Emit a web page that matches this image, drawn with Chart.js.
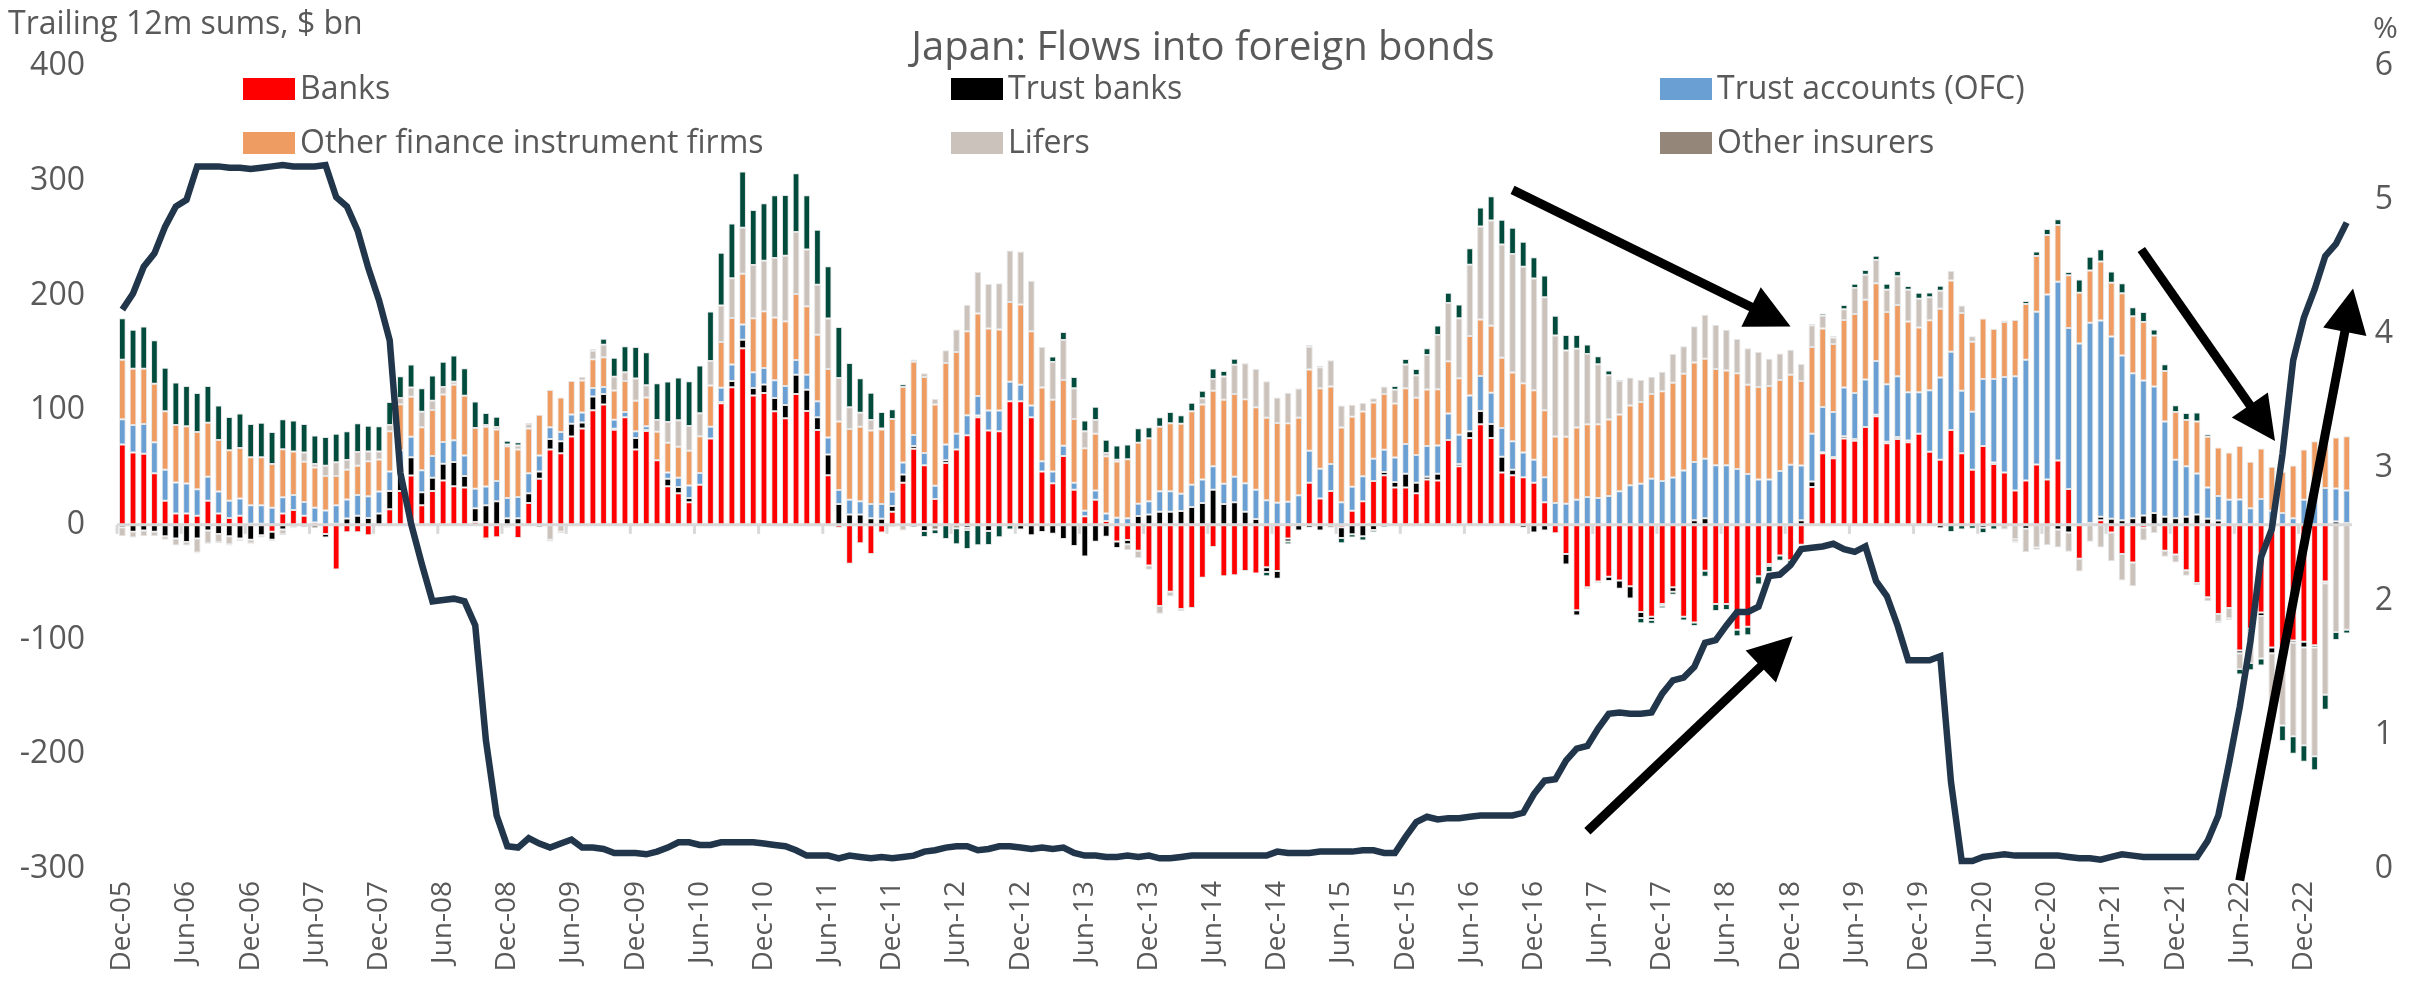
<!DOCTYPE html>
<html>
<head>
<meta charset="utf-8">
<script src="https://cdn.jsdelivr.net/npm/chart.js@4.4.0/dist/chart.umd.min.js"></script>
<style>
  body { margin: 0; background: #fff; }
  #wrap { position: relative; width: 2410px; height: 1004px; font-family: 'Open Sans', sans-serif; color: #595959; }
  #flowsChart { position: absolute; left: 0; top: 0; }
  .txt { position: absolute; white-space: nowrap; line-height: 1; }
  .key { position: absolute; width: 52px; height: 22px; }
</style>
</head>
<body>
<div id="wrap">
  <canvas id="flowsChart" width="2410" height="1004"></canvas>
  <div class="txt" style="left:8px; top:6px; font-size:32px;">Trailing 12m sums, $ bn</div>
  <div class="txt" style="left:1203px; top:25px; font-size:40px; transform:translateX(-50%);">Japan: Flows into foreign bonds</div>
  <div class="txt" style="left:2373px; top:12px; font-size:30px;">%</div>
  <div id="legend"></div>
</div>
<script>
// trailing 12m sums, $ bn, monthly from Dec-05
const banks = [
  70, 63, 62, 45, 21, 10, 10, 8, 21, 10,
  6, 8, 1, 1, -6, 10, 13, 8, 2, -8,
  -39, -6.5, -6.5, -9, 0, 13.5, 29.6, 43, 17, 29.6,
  38.7, 33.7, 32.5, 2.5, -12, -10.7, -1.5, -11.5, 19, 40.3,
  65.8, 62.5, 77, 84, 100, 105, 83, 93.8, 65.8, 81.9,
  56.4, 33.7, 27.6, 19.8, 35, 75.3, 106, 120, 154, 112.8,
  115, 99, 93, 114, 99.2, 82.7, 43.2, -2.5, -34, -16,
  -25.5, -6.6, 11.5, 36.6, 66.3, 51.9, 22.6, 53.9, 65.8, 78.2,
  93.8, 82.3, 81.5, 107.8, 107.8, 93.8, 46.5, 36.2, 60, 30.5,
  7.4, 21.8, 3.3, -14.4, -13.2, -22.6, -35.4, -70.8, -58.4, -73.3,
  -72.4, -46, -19.3, -44.9, -44, -40.3, -42.4, -37, -40.3, -12,
  0.8, 36.6, 23, 29.6, -2, 12.3, 20.6, 38.3, 43.2, 32.5,
  32.5, 27.6, 39.5, 38.7, 74, 51, 75.7, 87.7, 75.7, 45.7,
  43.2, 41.6, 36.6, 19.8, -7.4, -25.5, -74.5, -54.3, -49.4, -45.3,
  -48.6, -53.5, -76, -80, -69, -54.3, -80, -85.2, -40, -69,
  -69, -91.4, -88.9, -44.9, -34.2, -26.7, -30.9, -17.3, 32.9, 62.5,
  58, 75.3, 73.3, 85.2, 94.7, 71.2, 74.9, 72, 79.4, 63.8,
  56.8, 82.7, 62.5, 48.1, 68.7, 53.1, 45.7, 30, 38.7, 52.7,
  39.5, 56, 31.3, -29.6, 0, 4.1, -6.6, -25.5, -32.9, -2.5,
  0, -22.6, -25.9, -39.5, -50.6, -63, -77.8, -72.4, -109.5, -90.5,
  -76.5, -107, -107.8, -100.8, -102, -105, -49.4, 0, 0
];
const trustBanks = [
  -2, -6, -5, -6, -10, -12, -15, -12, -5, -8,
  -10, -12, -13, -9, -7, -4, 0, 0, 0, -3,
  1, 5.5, 8, 6, 10, 16, 16.5, 16, 11.5, 11.5,
  14.5, 21, 10, 12, 17, 20.5, 5.8, 5.8, 8.6, 6.2,
  9, 10.3, 11.1, 5.3, 12, 9, 0.8, 0, 9.9, 0.8,
  0, 6.6, 5.3, 3.7, 0, 0, 1.2, 5.3, 7.4, 6.6,
  7.4, 11.5, 11.5, 16.9, 18.5, 11, 18.1, 18.1, 9, 9,
  5.8, 5.3, 5, 7.4, 2.5, -5.3, 0, 2.5, 0, -2.5,
  1.6, -5.3, 0, 0, -4, -9, -6.2, -7.8, -12.3, -18.5,
  -27.6, -14.8, -10.3, -5.8, -3.7, 7.8, 9, 11.5, 11.5, 12,
  15.6, 19, 30.5, 18.1, 19.8, 11.5, 5, -4.1, -6.6, -2.5,
  -5, -2.5, -5, -2, -9.5, -8.2, -9.9, -4.5, 2.9, 4.9,
  12, 9, 2.5, 5.8, 0, 2, 5.8, 11.5, 12.3, 13.6,
  4.9, -2.5, -6.6, -5, 0, -9, -4.5, -1.6, -1.2, -3.7,
  -7, -10.7, -5.3, -2.9, -1.6, -4.1, 0, 4.1, 5.8, 0,
  0, 0, 0, 0, -1.6, 0, 0, 4.1, 4.9, 0.8,
  1.2, 2, 1.6, 0, 1.2, 1.2, 1.6, 1.6, -1, 0,
  -3, 0, 0, 0, -2.5, 1.2, 0, 0, -3.3, 0,
  0, -4.1, -6.6, 0, 1.6, 2.9, 5.3, 4.1, 5.8, 8.2,
  10.3, 7, 5.8, 7, 9, 5.3, 3.7, 0, -2.5, -2,
  -2.9, -4.9, -5.3, -2, -4.9, -2, -1.6, 2.9, 1.6
];
const trustAccounts = [
  22, 24, 26, 27, 27, 27, 26, 23, 21, 19,
  15, 15, 16, 16, 15, 14, 13, 12, 13, 12.5,
  16, 16.5, 18, 19, 19, 17, 19, 17.7, 19, 19,
  19, 19, 18, 17, 16.5, 17.7, 17.7, 18.5, 17.3, 14,
  10.3, 8.2, 8.2, 8.6, 7.4, 6.2, 7.8, 4.5, 5.8, 3.3,
  0, 5.3, 8.2, 10.7, 10.3, 10.3, 12.3, 14.4, 13.2, 13.6,
  14.4, 15.6, 16.5, 12.8, 13.2, 14, 14.8, 12.3, 12.8, 11.5,
  12.3, 12.8, 12.3, 10.3, 9.5, 10.7, 11.5, 13.6, 13.6, 17.3,
  16.9, 17.3, 18.1, 16.9, 14.4, 10.3, 9, 10.3, 9, 6.2,
  5, 8.2, 6.6, 6.2, 5.8, 10.7, 11.5, 17.7, 17.7, 15.2,
  19.3, 20.6, 20.6, 17.7, 22.2, 24.7, 25.5, 21.4, 19.3, 20.2,
  25, 28, 26, 23.5, 19.8, 21, 21.8, 19.3, 19.3, 21.4,
  26, 24.3, 26.7, 24.7, 23, 25.5, 31.3, 30.5, 27.2, 25.1,
  24.7, 21.4, 20.2, 21.8, 19, 18.5, 21.8, 24.3, 23.5, 25.1,
  29.2, 34.6, 35.8, 40.3, 38.3, 41.2, 47.3, 50.6, 51.9, 51.9,
  51.9, 48.6, 44.4, 39.5, 39.5, 46.9, 52.3, 47.7, 41.6, 39.5,
  39.1, 42.4, 40, 41.6, 46.9, 50.2, 53, 42, 36.2, 53.5,
  71.6, 68.3, 54.3, 50.6, 58.4, 72.8, 83.1, 99.6, 105.3, 133,
  161.3, 156, 140.3, 158, 174.5, 171.2, 158.8, 143.6, 126.3, 117.7,
  110.3, 83.1, 51, 44, 35.8, 27.2, 21.4, 21.8, 22.2, 14.4,
  22.6, 12.3, 10.3, 5.8, 21.8, 32.1, 32.1, 28.8, 28.4
];
const otherFinance = [
  52, 49, 48, 51, 51, 50, 50, 50, 47, 45,
  44, 44, 42, 42, 38, 42, 38, 35, 35, 30,
  25.5, 26, 25.5, 30.5, 28, 35, 40, 35, 37.5, 40,
  41.5, 48.5, 52, 53, 52, 45, 45, 41.5, 39, 35.4,
  32.5, 30, 29.2, 28, 25, 26, 25.5, 27, 26.7, 25,
  24.7, 26, 27, 30.5, 32, 35.8, 40, 40.7, 44.4, 47,
  49.4, 54.7, 56.4, 57.6, 59.7, 58, 59.7, 59.7, 61.7, 65,
  64.2, 65, 63.4, 65.8, 63.8, 66.3, 70.8, 71.2, 71.2, 73.3,
  72, 71.6, 70.8, 69.5, 70, 64.6, 64.2, 62.5, 57.2, 55.6,
  54.3, 49.4, 49.8, 49, 51.4, 53, 55.1, 56.4, 59.3, 61,
  64.2, 65.4, 65.8, 73.3, 72, 73.3, 72, 72, 69.5, 68.3,
  67.5, 70.8, 70, 67.5, 65, 61, 56.4, 49, 48.6, 47,
  48.6, 49.8, 49.4, 49, 45.7, 49.4, 51.9, 49.4, 58.4, 61.3,
  60, 60.5, 60.5, 58.4, 58, 58.4, 63, 63.4, 64.2, 66.7,
  67, 69.5, 71.2, 73.7, 78.2, 82.7, 84.4, 86.8, 87.2, 84,
  82.7, 83.5, 77.8, 80.7, 81.5, 79.4, 78.6, 73.7, 75.7, 68.3,
  59.3, 58.8, 69, 69.5, 67.9, 63, 62.1, 61.7, 56.4, 61,
  60, 62.1, 67.9, 60.9, 52.7, 43.6, 48.1, 49, 48.6, 48.6,
  51.9, 49.4, 46, 44.4, 45.7, 51.4, 46.9, 54.3, 49.8, 51,
  44.4, 44, 41.6, 40.3, 45.3, 44.4, 42.4, 41.2, 46.5, 40.7,
  44, 38.3, 35.8, 46, 44, 40.7, 42, 44.4, 47.3
];
const lifers = [
  -8, -5, -5, -4, -3, -6, -3, -12, -11, -7,
  -7, -1, -3, -2, -1, -4, -2, 8, 3, 9,
  12, 8.5, 12, 8.5, 7, 5.5, 5.5, 8, 13.5, 8,
  6.5, 2.5, 0, 0, 1.5, 2, 1.6, 3.3, 4, 0,
  -13, -6, 0, 2.9, 7.4, 10.7, 12, 7.8, 19.3, 10.7,
  10.3, 18, 23, 21.4, 20, 21.4, 31.7, 34.6, 40, 46.5,
  44, 51.9, 57.2, 53.9, 49.4, 43.6, 44, 37.9, 19, 12.3,
  9, 0.8, -2, -5, 2, 3.3, 4.9, 11.1, 19.8, 23,
  36.2, 38.7, 40.3, 44.9, 46, 44, 35.4, 32.9, 35, 26.7,
  14.8, 12, 2.9, 1.6, -5, -6.2, -3.7, -6.6, -4.1, -2,
  0, 5.3, 10.3, 20.2, 25.5, 31.3, 33.3, 31.7, 22.2, 26.7,
  25.5, 19.8, 18.5, 23, 19.3, 10.3, 7.4, 3.7, 6.6, 12,
  20.6, 19.8, 30, 47.3, 50.6, 52.3, 62, 81, 91.8, 98.8,
  103.3, 101.6, 97.5, 98.4, 88, 75, 68.7, 61.3, 52.3, 38.7,
  29.2, 24.3, 19.3, 15.2, 16.9, 25.1, 23.9, 31.7, 38.3, 38.3,
  35.4, 30, 31.7, 30.5, 23.9, 23, 21.8, 14.8, 18.9, 11.1,
  5.8, 9.5, 22.6, 21.8, 20.2, 19.3, 25.1, 27.6, 25.1, 20.2,
  15.6, 8.2, 6.6, 4.9, 0, 0, -4, -12.3, -20.6, -19.8,
  -17.7, -15.6, -16.9, -11.1, -14.8, -19.8, -25.1, -23, -20.6, -11.1,
  -7, -5.3, -7, -4.9, -2, -3.7, -6.6, -9, -13.6, -28,
  -37, -47.7, -61.7, -81.5, -85.2, -94.7, -97, -93.4, -91.4
];
const otherInsurers = [
  0, 0, 0, 0, 0, 0, 0, -1, -1, -1,
  -1, -1, -1, 0, 0, -1, -1, -2, -3, 0,
  0, 0, 0, 0, 0, 0, 0, 0, 0, 0,
  0, 0, 0, 0, -1, 0, -1, 0, 0, 0,
  0, 0, 0, 0, 0, 0, 0, 0, 0, 0,
  0, 0, 0, 0, 0, 0, 0, 0, 0, 0,
  0, 0, 0, 0, 0, 0, 0, 0, 0, 0,
  0, 0, 0, 0, 0, 0, -4, 0, -3, -2,
  0, 0, 0, 0, 0, 0, 0, 0, 0, 0,
  0, 0, 0, 0, 0, 0, 0, 0, 0, 0,
  0, 0, 0, 0, 0, 0, 0, 0, 0, 0,
  0, 0, 0, 0, 0, 0, 0, 0, 0, 0,
  0, 0, 0, 0, 0, 0, 0, 0, 0, 0,
  0, 0, 0, 0, 0, 0, 0, 0, 0, 0,
  0, 0, 0, 0, 0, 0, 0, 0, 0, 0,
  0, 0, 0, 0, 0, 0, 0, 0, 0, 0,
  0, 0, 0, 0, 0, 0, 0, 0, 0, 0,
  0, 0, 0, 0, 0, 0, 0, -2, 0, -2,
  0, 0, 0, 0, 0, 0, 0, 0, 0, 0,
  0, 0, 0, 0, 0, 0, 0, 0, 0, 0,
  0, 0, 0, 0, 0, 0, 0, 0, 0
];
// dark green series, not in the legend
const others = [
  36, 34, 37, 38, 38, 37, 35, 34, 32, 30,
  29, 30, 29, 30, 28, 26, 27, 25, 25, 25,
  25, 25, 25, 22.5, 22, 20, 19, 20, 20.5, 22,
  22, 23, 24, 23, 10.5, 9, 3.3, 2.9, 1, -2,
  -1.6, -1.2, 0, 0, 1.6, 5.3, 16.5, 22.6, 27.6, 28.8,
  32, 35.4, 37.4, 39, 41.6, 43.2, 46, 47.7, 49, 48,
  50.2, 54.7, 53, 51.4, 47.3, 48, 45.7, 44.4, 38.7, 30,
  23.9, 14.4, 8.6, 2.5, -2, -5.3, -4, -12.3, -14, -16.5,
  -17.7, -12.3, -10.7, -4, 0, 0, 0, 4.9, 7, 9.9,
  9.5, 11.5, 11.5, 12.3, 12.8, 12.8, 9.5, 8.2, 9.9, 7.4,
  7.4, 6.6, 9, 4.9, 5.3, 0.5, 0, -3.7, 0, -2.5,
  0.4, 1.6, 1.2, -1, -4.5, -2.9, -3.7, -2, -2, 3.3,
  4.9, 5.3, 5.8, 8.2, 9, 12, 14.4, 16.5, 21, 21.4,
  23, 21.8, 18.5, 19, 17.3, 13.6, 12, 8.2, 7, 4.1,
  1.2, 0, -4.5, -3.3, -2, -2.5, -3.3, -2.9, -5.3, -6.2,
  -5.3, -5.8, -7.4, -7, -5.3, -4.5, -2.9, 0, 1.2, 2,
  1.2, 3.7, 3.7, 4.1, 3.7, 5.3, 4.5, 3.3, 5.3, 4.1,
  4.5, -6.2, -4.1, -3.3, -4.5, -4, 1.2, -1.2, 2.5, 4.1,
  5.3, 4.9, 2.9, 11.5, 11.9, 10.7, 9.9, 8.6, 7.8, 8.6,
  5.3, 5.8, 5.8, 6.2, 7.8, 2, -1.2, -1.6, -4.9, -6.2,
  -6.2, -7, -13.6, -15.2, -14.4, -12.3, -13.2, -7, -3.3
];
// right axis, %
const policyRate = [
  4.18, 4.30, 4.50, 4.60, 4.80, 4.95, 5.00, 5.25, 5.25, 5.25,
  5.24, 5.24, 5.23, 5.24, 5.25, 5.26, 5.25, 5.25, 5.25, 5.26,
  5.02, 4.95, 4.77, 4.49, 4.25, 3.95, 2.96, 2.58, 2.28, 2.00,
  2.01, 2.02, 2.00, 1.82, 0.96, 0.40, 0.17, 0.16, 0.23, 0.19,
  0.16, 0.19, 0.22, 0.16, 0.16, 0.15, 0.12, 0.12, 0.12, 0.11,
  0.13, 0.16, 0.20, 0.20, 0.18, 0.18, 0.20, 0.20, 0.20, 0.20,
  0.19, 0.18, 0.17, 0.14, 0.10, 0.10, 0.10, 0.08, 0.10, 0.09,
  0.08, 0.09, 0.08, 0.09, 0.10, 0.13, 0.14, 0.16, 0.17, 0.17,
  0.14, 0.15, 0.17, 0.17, 0.16, 0.15, 0.16, 0.15, 0.16, 0.12,
  0.10, 0.10, 0.09, 0.09, 0.10, 0.09, 0.10, 0.08, 0.08, 0.09,
  0.10, 0.10, 0.10, 0.10, 0.10, 0.10, 0.10, 0.10, 0.13, 0.12,
  0.12, 0.12, 0.13, 0.13, 0.13, 0.13, 0.14, 0.14, 0.12, 0.12,
  0.24, 0.35, 0.39, 0.37, 0.38, 0.38, 0.39, 0.40, 0.40, 0.40,
  0.40, 0.42, 0.56, 0.66, 0.67, 0.81, 0.90, 0.92, 1.05, 1.16,
  1.17, 1.16, 1.16, 1.17, 1.31, 1.41, 1.43, 1.51, 1.69, 1.71,
  1.82, 1.92, 1.92, 1.96, 2.19, 2.20, 2.27, 2.39, 2.40, 2.41,
  2.43, 2.39, 2.37, 2.41, 2.15, 2.04, 1.82, 1.56, 1.56, 1.56,
  1.59, 0.65, 0.06, 0.06, 0.09, 0.10, 0.11, 0.10, 0.10, 0.10,
  0.10, 0.10, 0.09, 0.08, 0.08, 0.07, 0.09, 0.11, 0.10, 0.09,
  0.09, 0.09, 0.09, 0.09, 0.09, 0.21, 0.40, 0.79, 1.21, 1.70,
  2.33, 2.54, 3.10, 3.80, 4.12, 4.33, 4.58, 4.67, 4.83
];

// month labels Dec-05 onwards, one per bar
const monthNames = ['Jan', 'Feb', 'Mar', 'Apr', 'May', 'Jun', 'Jul', 'Aug', 'Sep', 'Oct', 'Nov', 'Dec'];
const months = [];
for (let k = 0; k < banks.length; k++) {
  const m = (11 + k) % 12;
  const yr = 5 + Math.floor((11 + k) / 12);
  months.push(monthNames[m] + '-' + String(yr).padStart(2, '0'));
}

// annotation arrows: [month index, $ bn] from -> to
const arrows = [
  { from: [130, 292], to: [156, 173] },
  { from: [137, -267], to: [156.2, -97] },
  { from: [188.8, 240], to: [201.3, 73] },
  { from: [198, -310], to: [208.6, 206] }
];

const series = [
  { label: 'Banks', data: banks, color: '#FF0000' },
  { label: 'Trust banks', data: trustBanks, color: '#000000' },
  { label: 'Trust accounts (OFC)', data: trustAccounts, color: '#699FD3' },
  { label: 'Other finance instrument firms', data: otherFinance, color: '#EE9C62' },
  { label: 'Lifers', data: lifers, color: '#CBC2BB' },
  { label: 'Other insurers', data: otherInsurers, color: '#948678' },
  { label: 'Others', data: others, color: '#004B3B' }
];

const fontFamily = "'Open Sans', sans-serif";
const textColor = '#595959';

// legend, 3 per row, like the original
const legendCols = [243, 951, 1660];
const legendRows = [89, 143];
const legendBox = document.getElementById('legend');
series.slice(0, 6).forEach((s, i) => {
  const left = legendCols[i % 3];
  const cy = legendRows[Math.floor(i / 3)];
  const key = document.createElement('div');
  key.className = 'key';
  key.style.left = left + 'px';
  key.style.top = (cy - 11) + 'px';
  key.style.background = s.color;
  legendBox.appendChild(key);
  const t = document.createElement('div');
  t.className = 'txt';
  t.style.left = (left + 57) + 'px';
  t.style.top = (cy - 18) + 'px';
  t.style.fontSize = '32px';
  t.textContent = s.label;
  legendBox.appendChild(t);
});

const axisMarks = {
  id: 'axisMarks',
  beforeDatasetDraw(chart, args) {
    if (args.meta.type !== 'line') return;
    const { ctx, chartArea, scales: { x, y } } = chart;
    const y0 = y.getPixelForValue(0);
    ctx.save();
    ctx.strokeStyle = '#d9d9d9';
    ctx.lineWidth = 3;
    ctx.beginPath();
    ctx.moveTo(chartArea.left, y0);
    ctx.lineTo(chartArea.right, y0);
    ctx.stroke();
    for (let i = 0; i < months.length; i += 6) {
      const xp = x.getPixelForValue(i - 0.5);
      ctx.beginPath();
      ctx.moveTo(xp, y0);
      ctx.lineTo(xp, y0 + 9);
      ctx.stroke();
    }
    ctx.restore();
  }
};

const arrowPlugin = {
  id: 'arrows',
  afterDatasetsDraw(chart) {
    const { ctx, scales: { x, y } } = chart;
    ctx.save();
    ctx.strokeStyle = '#000';
    ctx.fillStyle = '#000';
    ctx.lineWidth = 9;
    arrows.forEach(a => {
      const x0 = x.getPixelForValue(a.from[0]), y0 = y.getPixelForValue(a.from[1]);
      const x1 = x.getPixelForValue(a.to[0]), y1 = y.getPixelForValue(a.to[1]);
      const ang = Math.atan2(y1 - y0, x1 - x0);
      const head = 44, half = 22;
      const bx = x1 - head * Math.cos(ang), by = y1 - head * Math.sin(ang);
      ctx.beginPath();
      ctx.moveTo(x0, y0);
      ctx.lineTo(bx + 2 * Math.cos(ang), by + 2 * Math.sin(ang));
      ctx.stroke();
      ctx.beginPath();
      ctx.moveTo(x1, y1);
      ctx.lineTo(bx + half * Math.sin(ang), by - half * Math.cos(ang));
      ctx.lineTo(bx - half * Math.sin(ang), by + half * Math.cos(ang));
      ctx.closePath();
      ctx.fill();
    });
    ctx.restore();
  }
};

const barSets = series.map(s => ({
  type: 'bar',
  label: s.label,
  data: s.data,
  backgroundColor: s.color,
  borderColor: 'rgba(225,225,225,0.9)',
  borderWidth: 1,
  borderSkipped: false,
  stack: 'flows',
  yAxisID: 'y',
  barPercentage: 0.63,
  categoryPercentage: 1,
  order: 1
}));

const ctx = document.getElementById('flowsChart').getContext('2d');
new Chart(ctx, {
  type: 'bar',
  data: {
    labels: months,
    datasets: [
      {
        type: 'line',
        label: 'Rate',
        data: policyRate,
        yAxisID: 'y1',
        borderColor: '#22364B',
        borderWidth: 6.5,
        pointRadius: 0,
        tension: 0,
        order: 0
      },
      ...barSets
    ]
  },
  options: {
    responsive: false,
    animation: false,
    devicePixelRatio: 1,
    layout: { padding: { top: 66, left: 0, right: 17, bottom: 0 } },
    plugins: {
      legend: { display: false },
      tooltip: { enabled: false }
    },
    scales: {
      x: {
        stacked: true,
        grid: { display: false, drawTicks: false },
        border: { display: false },
        ticks: {
          autoSkip: false,
          maxRotation: 90,
          minRotation: 90,
          padding: 12,
          color: textColor,
          font: { family: fontFamily, size: 28 },
          callback: (v, i) => (i % 6 === 0 ? months[i] : '')
        },
        afterFit: s => { s.height = 135; }
      },
      y: {
        stacked: true,
        min: -300,
        max: 400,
        grid: { display: false, drawTicks: false },
        border: { display: false },
        ticks: {
          stepSize: 100,
          padding: 32,
          color: textColor,
          font: { family: fontFamily, size: 32 }
        },
        afterFit: s => { s.width = 117; }
      },
      y1: {
        position: 'right',
        min: 0,
        max: 6,
        grid: { display: false, drawTicks: false },
        border: { display: false },
        ticks: {
          stepSize: 1,
          crossAlign: 'far',
          color: textColor,
          font: { family: fontFamily, size: 32 }
        },
        afterFit: s => { s.width = 41; }
      }
    }
  },
  plugins: [axisMarks, arrowPlugin]
});
</script>
</body>
</html>
